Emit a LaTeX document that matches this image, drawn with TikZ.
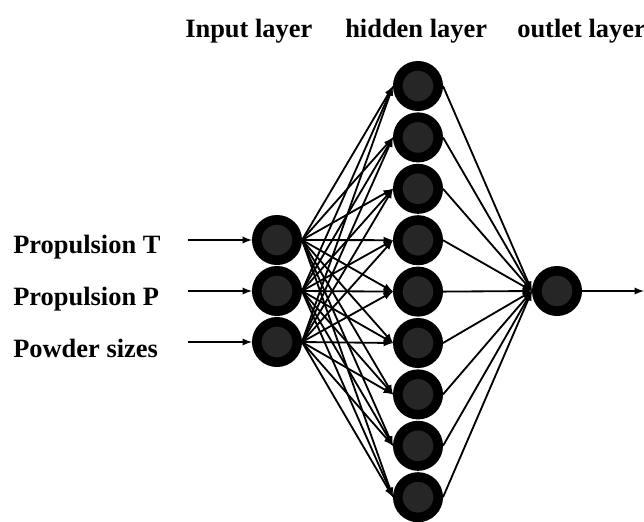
\documentclass[tikz,border=0pt]{standalone}
\usepackage{fontspec}
\setmainfont{Liberation Serif}
\usetikzlibrary{arrows, positioning}
\tikzset{
	neuron/.style={circle, draw=black, fill=black!85, line width=0.24cm, minimum size=1.01cm, inner sep=0pt},
	conn/.style={-latex, line width=1.3pt},
	lbl/.style={font=\fontsize{18.8}{22}\selectfont\bfseries, anchor=base west, inner sep=0pt}
}
\begin{document}
\begin{tikzpicture}[x=0.025cm, y=-0.025cm]
		\useasboundingbox (0,0) rectangle (644,521);
		
		% Layer titles
		\node[lbl] (tin) at (185,37) {Input layer};
		\node[lbl] (thid) at (345,37) {hidden layer};
		\node[lbl] (tout) at (517,37) {outlet layer};
		
		% Input layer
		\node[neuron] (i1) at (277,240) {};
		\node[neuron] (i2) at (277,291) {};
		\node[neuron] (i3) at (277,342) {};
		
		% Hidden layer
		\foreach \k in {1,...,9}
			\node[neuron] (h\k) at (418,{86+51.4*(\k-1)}) {};
		
		% Outlet layer
		\node[neuron] (out) at (557,291) {};
		
		% Input labels
		\node[lbl] (l1) at (13,253) {Propulsion T};
		\node[lbl] (l2) at (13,305) {Propulsion P};
		\node[lbl] (l3) at (13,357) {Powder sizes};
		\coordinate (s1) at (188,240);
		\coordinate (s2) at (188,291);
		\coordinate (s3) at (188,342);
		\coordinate (e) at (644,291);
		
		% Arrows
		\foreach \i in {1,2,3}
			\draw[conn] (s\i) -- (i\i.west);
		\foreach \i in {1,2,3}
			\foreach \k in {1,...,9}
				\draw[conn] (i\i.east) -- (h\k.west);
		\foreach \k in {1,...,9}
			\draw[conn] (h\k.east) -- (out.west);
		\draw[conn] (out.east) -- (e);
	\end{tikzpicture}
\end{document}
